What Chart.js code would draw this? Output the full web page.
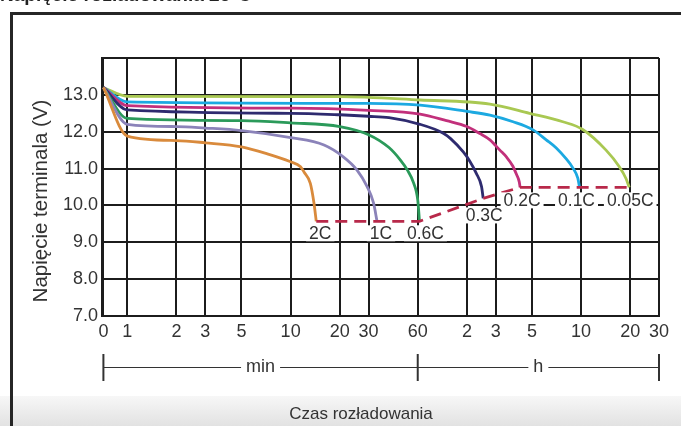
<!DOCTYPE html>
<html lang="pl">
<head>
<meta charset="utf-8">
<title>Napięcie rozładowania 25°C</title>
<script src="https://cdn.jsdelivr.net/npm/chart.js@4.4.1/dist/chart.umd.min.js"></script>
<style>
  html, body { margin: 0; padding: 0; background: #fff; }
  #wrap { position: relative; width: 681px; height: 426px; }
</style>
</head>
<body>
<div id="wrap"><canvas id="chart" width="681" height="426"></canvas></div>
<script>
// discharge time in minutes, terminal voltage in volts
const rateLabels = ['2C', '1C', '0.6C', '0.3C', '0.2C', '0.1C', '0.05C'];

const time2C = [0, 1, 2, 3, 5, 7.2, 9.9, 11.5, 12.1, 13.2, 13.9, 14.35];
const volt2C = [13.2, 11.88, 11.76, 11.7, 11.59, 11.4, 11.19, 11.05, 10.9, 10.6, 10.06, 9.57];

const time1C = [0, 1, 2, 3, 5, 10, 16, 21, 25.5, 29.4, 32.2, 33.8];
const volt1C = [13.2, 12.2, 12.14, 12.1, 12.03, 11.84, 11.64, 11.32, 10.96, 10.51, 10.06, 9.57];

const time06C = [0, 1, 5, 10, 20, 30, 40, 47, 52, 56.5, 60, 61.5];
const volt06C = [13.2, 12.36, 12.3, 12.24, 12.14, 11.92, 11.57, 11.23, 10.95, 10.62, 10.15, 9.57];

const time03C = [0, 1, 10, 20, 30, 40, 62, 86, 95, 114, 125, 137, 147.5, 151];
const volt03C = [13.2, 12.59, 12.5, 12.46, 12.42, 12.38, 12.2, 11.96, 11.82, 11.45, 11.2, 10.87, 10.51, 10.19];

const time02C = [0, 1, 10, 30, 62, 90, 120, 144, 166, 191, 210, 229, 242, 251, 254];
const volt02C = [13.2, 12.71, 12.64, 12.58, 12.48, 12.3, 12.14, 11.95, 11.78, 11.5, 11.31, 11.07, 10.83, 10.64, 10.49];

const time01C = [0, 1, 30, 62, 120, 166, 230, 305, 367, 423, 487, 534, 573, 587];
const volt01C = [13.2, 12.81, 12.77, 12.72, 12.55, 12.45, 12.27, 12.05, 11.78, 11.56, 11.26, 11.02, 10.74, 10.49];

const time005C = [0, 1, 20, 62, 166, 290, 464, 614, 853, 1029, 1130, 1183];
const volt005C = [13.2, 12.96, 12.95, 12.86, 12.75, 12.5, 12.27, 12.06, 11.5, 11.05, 10.73, 10.49];

// end-of-discharge voltage line
const cutoffTimes = [14.35, 33.8, 61.5, 151, 254, 587, 1183];
const cutoffVolts = [9.57, 9.57, 9.57, 10.19, 10.49, 10.49, 10.49];

// axis ticks (x in minutes)
const xTickValues = [0, 1, 2, 3, 5, 10, 20, 30, 60, 120, 180, 300, 600, 1200, 1800];
const xTickLabels = ['0', '1', '2', '3', '5', '10', '20', '30', '60', '2', '3', '5', '10', '20', '30'];
const yTickValues = [7, 8, 9, 10, 11, 12, 13, 14];

// where "0" sits on the log axis
const X_ZERO = 0.714;

const rateColors = ['#d98a3c', '#8b83b9', '#2b9a5a', '#2e2b6f', '#c2307b', '#1ca9e1', '#a9c852'];
const labelOffsets = [[4, 12], [4, 12], [6, 12], [1, 17], [2, 13], [-3, 13], [1, 13]];

const FONT = '"Liberation Sans", Arial, sans-serif';
const TEXT = '#333';
const GRID = '#1c1c1c';

const toPoints = (times, volts) =>
  times.map((t, i) => ({ x: t === 0 ? X_ZERO : t, y: volts[i] }));

const series = [
  [time2C, volt2C], [time1C, volt1C], [time06C, volt06C], [time03C, volt03C],
  [time02C, volt02C], [time01C, volt01C], [time005C, volt005C]
];

const datasets = [{
  label: 'cutoff',
  data: toPoints(cutoffTimes, cutoffVolts),
  borderColor: '#b8294a',
  borderWidth: 2.8,
  borderDash: [12, 7],
  pointRadius: 0,
  tension: 0,
  order: 0
}];
series.forEach(([t, v], i) => {
  datasets.push({
    label: rateLabels[i],
    data: toPoints(t, v),
    borderColor: rateColors[i],
    borderWidth: 2.8,
    pointRadius: 0,
    cubicInterpolationMode: 'monotone',
    order: 1
  });
});

// frame, grey footer and the clipped heading behind the chart
const backdrop = {
  id: 'backdrop',
  beforeDraw(chart) {
    const ctx = chart.ctx;
    ctx.save();
    const g = ctx.createLinearGradient(0, 396, 0, 426);
    g.addColorStop(0, '#f7f7f7');
    g.addColorStop(1, '#e2e2e2');
    ctx.fillStyle = g;
    ctx.fillRect(0, 396, 681, 30);

    ctx.strokeStyle = '#262626';
    ctx.lineWidth = 3;
    ctx.beginPath();
    ctx.moveTo(11.5, 426);
    ctx.lineTo(11.5, 13.5);
    ctx.lineTo(681, 13.5);
    ctx.stroke();

    ctx.fillStyle = '#222';
    ctx.font = 'bold 19px ' + FONT;
    ctx.textBaseline = 'alphabetic';
    ctx.fillText('Napięcie rozładowania 25°C', 0, 0.5);
    ctx.restore();
  }
};

// rate labels under the curve ends
const rateTags = {
  id: 'rateTags',
  afterDatasetsDraw(chart) {
    const ctx = chart.ctx;
    ctx.save();
    ctx.font = '17.5px ' + FONT;
    ctx.textAlign = 'center';
    ctx.textBaseline = 'middle';
    rateLabels.forEach((lab, i) => {
      const pts = chart.getDatasetMeta(i + 1).data;
      const end = pts[pts.length - 1];
      const cx = end.x + labelOffsets[i][0];
      const cy = end.y + labelOffsets[i][1];
      const w = ctx.measureText(lab).width + 6;
      ctx.fillStyle = '#fff';
      ctx.fillRect(cx - w / 2, cy - 8, w, 16);
      ctx.fillStyle = TEXT;
      ctx.fillText(lab, cx, cy + 1);
    });
    ctx.restore();
  }
};

// axis title, min/h bracket and bottom caption
const extras = {
  id: 'extras',
  afterDraw(chart) {
    const ctx = chart.ctx;
    const xs = chart.scales.x;
    ctx.save();
    ctx.fillStyle = TEXT;
    ctx.textAlign = 'center';
    ctx.textBaseline = 'middle';

    ctx.save();
    ctx.font = '20.5px ' + FONT;
    ctx.translate(41, 201);
    ctx.rotate(-Math.PI / 2);
    ctx.fillText('Napięcie terminala (V)', 0, 0);
    ctx.restore();

    ctx.font = '18px ' + FONT;
    const x0 = xs.getPixelForValue(X_ZERO);
    const xm = xs.getPixelForValue(60);
    const x1 = xs.getPixelForValue(1800);
    const yb = 367.5;
    ctx.strokeStyle = '#333';
    ctx.lineWidth = 1.2;
    ctx.beginPath();
    ctx.moveTo(x0, yb);
    ctx.lineTo(x1, yb);
    ctx.stroke();
    ctx.lineWidth = 2;
    [x0, xm, x1].forEach(x => {
      ctx.beginPath();
      ctx.moveTo(x, 354);
      ctx.lineTo(x, 381);
      ctx.stroke();
    });
    [['min', (x0 + xm) / 2], ['h', (xm + x1) / 2]].forEach(([txt, cx]) => {
      const w = ctx.measureText(txt).width + 10;
      ctx.fillStyle = '#fff';
      ctx.fillRect(cx - w / 2, yb - 10, w, 20);
      ctx.fillStyle = TEXT;
      ctx.fillText(txt, cx, yb);
    });

    ctx.font = '17px ' + FONT;
    ctx.fillText('Czas rozładowania', 361, 414);
    ctx.restore();
  }
};

new Chart(document.getElementById('chart'), {
  type: 'line',
  data: { datasets },
  plugins: [backdrop, rateTags, extras],
  options: {
    responsive: false,
    animation: false,
    layout: { padding: { left: 0, top: 58, right: 22, bottom: 80 } },
    plugins: { legend: { display: false }, tooltip: { enabled: false } },
    scales: {
      x: {
        type: 'logarithmic',
        min: X_ZERO,
        max: 1800,
        afterBuildTicks: (scale) => {
          scale.ticks = xTickValues.map(v => ({ value: v === 0 ? X_ZERO : v }));
        },
        afterFit: (scale) => { scale.height = 30; },
        grid: { color: GRID, lineWidth: 2, drawTicks: false },
        border: { color: GRID, width: 2 },
        ticks: {
          autoSkip: false,
          maxRotation: 0,
          padding: 5,
          color: TEXT,
          font: { family: FONT, size: 18 },
          callback: (v, i) => xTickLabels[i]
        }
      },
      y: {
        min: 7,
        max: 14,
        afterBuildTicks: (scale) => {
          scale.ticks = yTickValues.map(v => ({ value: v }));
        },
        afterFit: (scale) => { scale.width = 102; },
        grid: { color: GRID, lineWidth: 2, drawTicks: false },
        border: { color: GRID, width: 2 },
        ticks: {
          padding: 4,
          color: TEXT,
          font: { family: FONT, size: 18 },
          callback: (v) => v === 14 ? '' : v.toFixed(1)
        }
      }
    }
  }
});
</script>
</body>
</html>
